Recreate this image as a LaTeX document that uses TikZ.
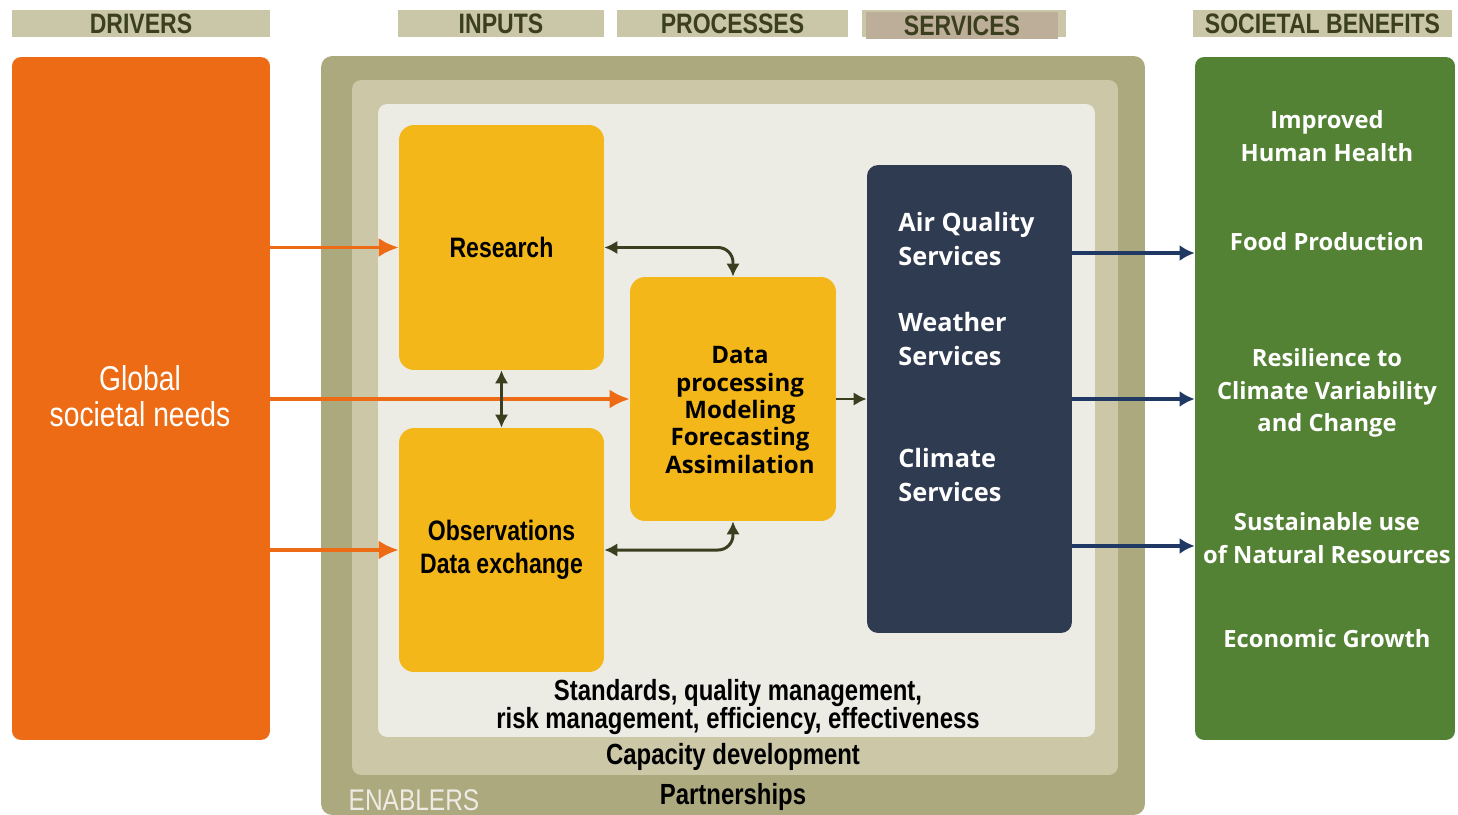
\documentclass[tikz,border=0pt]{standalone}
\usepackage{fontspec}
\setmainfont{Liberation Sans}
\newfontfamily\narrowfont{Liberation Sans}[FakeStretch=0.82]
\newfontfamily\roundfont{Open Sans}
\usetikzlibrary{arrows.meta}
\usetikzlibrary{positioning}
\usepackage{xcolor}

\definecolor{driverorange}{HTML}{ED6B14}
\definecolor{headkhaki}{HTML}{C9C7A8}
\definecolor{headbrown}{HTML}{BDAE9A}
\definecolor{headtext}{HTML}{3B3F1E}
\definecolor{enablerdark}{HTML}{ADA97F}
\definecolor{enablermid}{HTML}{CBC7A7}
\definecolor{enablerlight}{HTML}{EDECE4}
\definecolor{boxyellow}{HTML}{F4B719}
\definecolor{servicenavy}{HTML}{2F3B50}
\definecolor{benefitgreen}{HTML}{548235}
\definecolor{flowolive}{HTML}{3A3F20}
\definecolor{flowblue}{HTML}{1F3864}

\tikzset{
    bigtip/.tip={Latex[length=0.4cm, width=0.38cm]},
    smalltip/.tip={Latex[length=0.26cm, width=0.27cm]},
    bluetip/.tip={Latex[length=0.3cm, width=0.32cm]}
}

\begin{document}
\begin{tikzpicture}[x=0.02cm, y=-0.02cm,
    header/.style={fill=headkhaki, minimum height=0.54cm, inner sep=0pt, text=headtext,
        font=\narrowfont\bfseries\fontsize{16}{18}\selectfont},
    panel/.style={rounded corners=0.18cm, inner sep=0pt},
    ybox/.style={fill=boxyellow, rounded corners=0.3cm, inner sep=0pt, align=center,
        minimum width=4.1cm, font=\narrowfont\bfseries\fontsize{16}{19}\selectfont},
    service/.style={anchor=west, align=left, text=white, inner sep=0pt,
        font=\roundfont\bfseries\fontsize{14.4}{19}\selectfont},
    benefit/.style={align=center, text=white,
        font=\roundfont\bfseries\fontsize{13.5}{18.5}\selectfont},
    enabler/.style={align=center, font=\narrowfont\bfseries\fontsize{16.6}{15.9}\selectfont},
    orangearrow/.style={-bigtip, line width=2pt, draw=driverorange},
    olivearrow/.style={smalltip-smalltip, line width=1.7pt, draw=flowolive},
    bluearrow/.style={-bluetip, line width=2pt, draw=flowblue}]

    \useasboundingbox (0,0) rectangle (1458,815);
    \fill[white] (0,0) rectangle (1458,815);

    % column headers
    \node[header, minimum width=5.16cm] (hdrivers) at (141,23.5) {DRIVERS};
    \node[header, minimum width=4.12cm] (hinputs) at (501,23.5) {INPUTS};
    \node[header, minimum width=4.62cm] (hprocesses) at (732.5,23.5) {PROCESSES};
    \node[header, minimum width=4.08cm] (hservicesbar) at (964,23.5) {};
    \node[header, fill=headbrown, minimum width=3.84cm] (hservices) at (962,25.5) {SERVICES};
    \node[header, minimum width=5.18cm] (hbenefits) at (1322.5,23.5) {SOCIETAL BENEFITS};

    % drivers and benefits columns
    \node[panel, fill=driverorange, minimum width=5.16cm, minimum height=13.66cm] (drivers) at (141,398.5) {};
    \node[align=center, text=white, font=\narrowfont\fontsize{19.6}{20.5}\selectfont] (needs) at (140,396)
        {Global\\ societal needs};
    \node[panel, fill=benefitgreen, minimum width=5.2cm, minimum height=13.66cm] (benefits) at (1325,398.5) {};

    % enabler frames
    \node[panel, rounded corners=0.22cm, fill=enablerdark, minimum width=16.48cm, minimum height=15.18cm] (partner) at (733,435.5) {};
    \node[panel, fill=enablermid, minimum width=15.32cm, minimum height=13.9cm] (capacity) at (735,427.5) {};
    \node[panel, fill=enablerlight, minimum width=14.34cm, minimum height=12.66cm] (standards) at (736.5,420.5) {};

    % inputs and processes
    \node[ybox, minimum height=4.9cm] (research) at (501.5,247.5) {Research};
    \node[ybox, minimum height=4.88cm] (obs) at (501.5,550) {Observations\\ Data exchange};
    \node[ybox, minimum width=4.12cm, minimum height=4.88cm] (data) at (733,399) {};
    \node[align=center, font=\roundfont\bfseries\fontsize{13.7}{15.6}\selectfont] (datatext) at (740,410)
        {Data\\ processing\\ Modeling\\ Forecasting\\ Assimilation};

    % services
    \node[panel, fill=servicenavy, rounded corners=0.22cm, minimum width=4.1cm, minimum height=9.36cm] (services) at (969.5,399) {};
    \node[service] (airq) at (898,239) {Air Quality\\ Services};
    \node[service] (weather) at (898,339) {Weather\\ Services};
    \node[service] (climate) at (898,475) {Climate\\ Services};

    % benefits
    \node[benefit] (health) at (1327,136) {Improved\\ Human Health};
    \node[benefit] (food) at (1327,242) {Food Production};
    \node[benefit] (resilience) at (1327,393) {Resilience to\\ Climate Variability\\ and Change};
    \node[benefit] (resources) at (1327,538) {Sustainable use\\ of Natural Resources};
    \node[benefit] (growth) at (1327,639) {Economic Growth};

    % enabler labels
    \node[enabler] (quality) at (738,707) {Standards, quality management,\\ risk management, efficiency, effectiveness};
    \node[enabler] (capdev) at (733,757) {Capacity development};
    \node[enabler] (partners) at (733,797) {Partnerships};
    \node[text=enablerlight, font=\narrowfont\fontsize{17}{17}\selectfont] (enablers) at (414,800) {ENABLERS};

    % flows
    \draw[orangearrow] (drivers.east |- research) -- (research.west);
    \draw[orangearrow] (drivers.east |- data) -- (data.west);
    \draw[orangearrow] (drivers.east |- obs) -- (obs.west);

    \draw[olivearrow] (research.south) -- (obs.north);
    \draw[olivearrow, rounded corners=0.3cm] (research.east) -| (data.north);
    \draw[olivearrow, rounded corners=0.3cm] (obs.east) -| (data.south);
    \draw[-smalltip, line width=1.7pt, draw=flowolive] (data.east) -- (services.west);

    \foreach \dy in {2.92cm, 0cm, -2.94cm}
        \draw[bluearrow] ([yshift=\dy]services.east) -- ([yshift=\dy]services.east -| benefits.west);

\end{tikzpicture}
\end{document}
